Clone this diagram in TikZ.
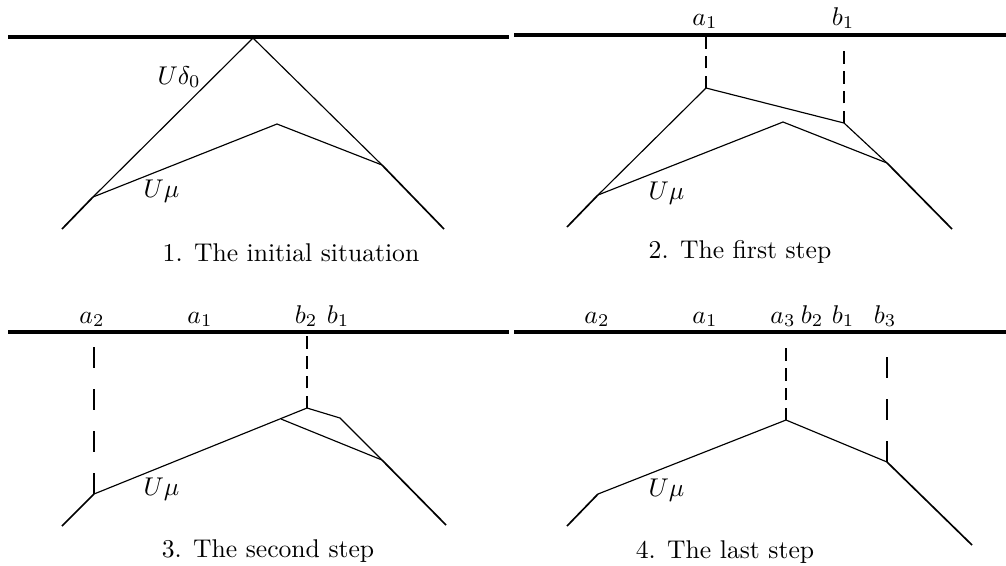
\documentclass[tikz,border=0pt]{standalone}
\usepackage{amsmath,amssymb}
\usepackage{tikz}

\begin{document}
\begin{tikzpicture}[
  x=0.39pt, y=-0.39pt,
  axis/.style={line width=1.2pt},
  curve/.style={line width=0.45pt},
  tail/.style={line width=0.65pt},
  shortdash/.style={line width=1pt, dash pattern=on 4.8pt off 2.9pt},
  longdash/.style={line width=0.9pt, dash pattern=on 8.2pt off 8.2pt},
  lbl/.style={anchor=base, inner sep=0pt},
  ulbl/.style={anchor=base west, inner sep=0pt},
  captext/.style={anchor=base, inner sep=0pt}]
  \useasboundingbox (0,0) rectangle (1006,565);

  % 1. initial situation
  \draw[axis] (8,37) -- (509,37);
  \coordinate (p1l) at (62,229);
  \coordinate (p1a) at (93,197);
  \coordinate (p1t) at (253,38);
  \coordinate (p1m) at (277,124);
  \coordinate (p1b) at (382,165);
  \coordinate (p1r) at (444,229);
  \draw[tail] (p1l) -- (p1a);
  \draw[curve] (p1a) -- (p1t) -- (p1b);
  \draw[tail] (p1b) -- (p1r);
  \draw[curve] (p1a) -- (p1m) -- (p1b);
  \node[ulbl] (d0) at (157,84) {$U\delta_0$};
  \node[ulbl] (mu1) at (143,197) {$U\mu$};
  \node[captext] (cap1) at (291,261) {1. The initial situation};

  % 2. first step
  \draw[axis] (514,35) -- (1006,35);
  \coordinate (p2l) at (567,227);
  \coordinate (p2a) at (598,195);
  \coordinate (p2x) at (706,88);
  \coordinate (p2y) at (844,123);
  \coordinate (p2m) at (783,122);
  \coordinate (p2b) at (887,163);
  \coordinate (p2r) at (952,229);
  \coordinate (p2xt) at (706,35);
  \coordinate (p2yt) at (844,45);
  \draw[tail] (p2l) -- (p2a);
  \draw[curve] (p2a) -- (p2x) -- (p2y) -- (p2b);
  \draw[tail] (p2b) -- (p2r);
  \draw[curve] (p2a) -- (p2m) -- (p2b);
  \draw[shortdash] (p2x) -- (p2xt);
  \draw[shortdash] (p2y) -- (p2yt);
  \node[lbl] (a1s2) at (705,25) {$a_1$};
  \node[lbl] (b1s2) at (843,25) {$b_1$};
  \node[ulbl] (mu2) at (648,199) {$U\mu$};
  \node[captext] (cap2) at (740,258) {2. The first step};

  % 3. second step
  \draw[axis] (8,332) -- (509,332);
  \coordinate (p3l) at (62,526);
  \coordinate (p3a) at (94,494);
  \coordinate (p3m) at (281,419);
  \coordinate (p3t) at (307,408);
  \coordinate (p3s) at (340,418);
  \coordinate (p3b) at (382,460);
  \coordinate (p3r) at (446,525);
  \coordinate (p3at) at (94,347);
  \coordinate (p3tt) at (307,333);
  \draw[tail] (p3l) -- (p3a);
  \draw[curve] (p3a) -- (p3t) -- (p3s) -- (p3b);
  \draw[tail] (p3b) -- (p3r);
  \draw[curve] (p3m) -- (p3b);
  \draw[longdash] (p3a) -- (p3at);
  \draw[shortdash] (p3t) -- (p3tt);
  \node[lbl] (a2s3) at (92,323) {$a_2$};
  \node[lbl] (a1s3) at (200,323) {$a_1$};
  \node[lbl] (b2s3) at (306,323) {$b_2$};
  \node[lbl] (b1s3) at (338,323) {$b_1$};
  \node[ulbl] (mu3) at (143,495) {$U\mu$};
  \node[captext] (cap3) at (268,557) {3. The second step};

  % 4. last step
  \draw[axis] (514,332) -- (1006,332);
  \coordinate (p4l) at (567,526);
  \coordinate (p4a) at (598,494);
  \coordinate (p4t) at (786,420);
  \coordinate (p4b) at (887,462);
  \coordinate (p4r) at (972,545);
  \coordinate (p4tt) at (786,345);
  \coordinate (p4bt) at (887,357);
  \draw[tail] (p4l) -- (p4a);
  \draw[curve] (p4a) -- (p4t) -- (p4b);
  \draw[tail] (p4b) -- (p4r);
  \draw[shortdash] (p4t) -- (p4tt);
  \draw[longdash] (p4b) -- (p4bt);
  \node[lbl] (a2s4) at (597,323) {$a_2$};
  \node[lbl] (a1s4) at (705,323) {$a_1$};
  \node[lbl] (a3s4) at (783,323) {$a_3$};
  \node[lbl] (b2s4) at (812,323) {$b_2$};
  \node[lbl] (b1s4) at (843,323) {$b_1$};
  \node[lbl] (b3s4) at (885,323) {$b_3$};
  \node[ulbl] (mu4) at (648,496) {$U\mu$};
  \node[captext] (cap4) at (725,558) {4. The last step};
\end{tikzpicture}
\end{document}
